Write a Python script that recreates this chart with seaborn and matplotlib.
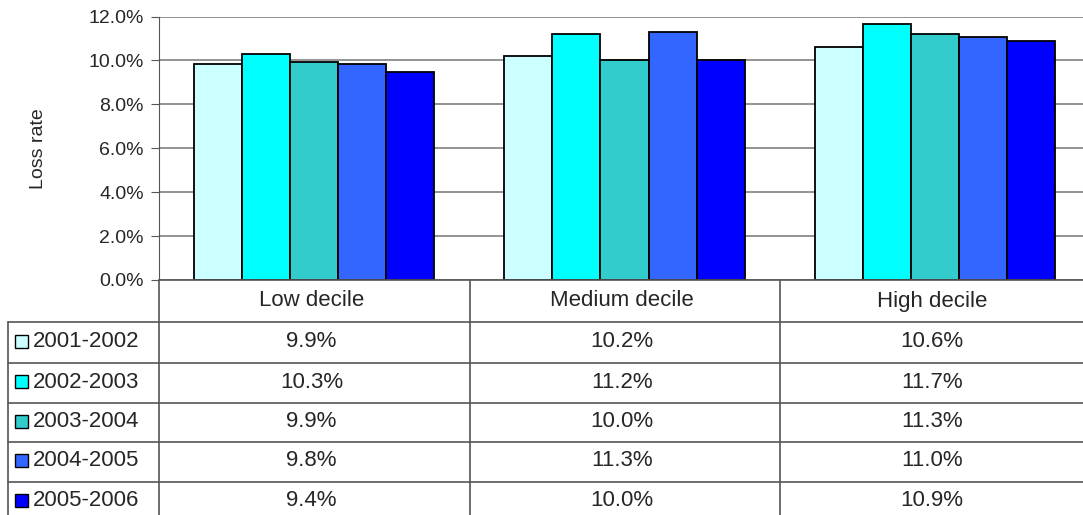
import matplotlib
matplotlib.use("Agg")
import matplotlib.pyplot as plt
import seaborn as sns
import pandas as pd
from matplotlib.lines import Line2D
from matplotlib.patches import Rectangle

categories = ["Low decile", "Medium decile", "High decile"]
periods = ["2001-2002", "2002-2003", "2003-2004", "2004-2005", "2005-2006"]
v2001 = [9.85, 10.2, 10.6]
v2002 = [10.3, 11.2, 11.65]
v2003 = [9.95, 10.0, 11.2]
v2004 = [9.85, 11.3, 11.05]
v2005 = [9.45, 10.0, 10.9]
table_labels = [
    ["9.9%", "10.2%", "10.6%"],
    ["10.3%", "11.2%", "11.7%"],
    ["9.9%", "10.0%", "11.3%"],
    ["9.8%", "11.3%", "11.0%"],
    ["9.4%", "10.0%", "10.9%"],
]
colors = ["#CCFFFF", "#00FFFF", "#33CCCC", "#3366FF", "#0000FF"]

rows = []
for p, vals in zip(periods, [v2001, v2002, v2003, v2004, v2005]):
    for c, v in zip(categories, vals):
        rows.append({"cat": c, "period": p, "val": v})
df = pd.DataFrame(rows)

W, H = 1083, 515
fig = plt.figure(figsize=(W / 100, H / 100), dpi=100)
sns.set_style("white")
plt.rcParams["font.family"] = ["Liberation Sans", "DejaVu Sans"]

# plot area in pixels
x0, x1 = 159, 1090
ytop, ybot = 16.5, 280
ax = fig.add_axes([x0 / W, 1 - ybot / H, (x1 - x0) / W, (ybot - ytop) / H])
sns.barplot(data=df, x="cat", y="val", hue="period", palette=colors,
            saturation=1, width=0.775, edgecolor="black", linewidth=1.3,
            ax=ax, legend=False, zorder=3)
ax.set_ylim(0, 12)
ax.set_xlim(-0.5, 2.5)
ax.set_yticks(range(0, 13, 2))
ax.set_yticklabels([f"{t:.1f}%" for t in range(0, 13, 2)], fontsize=14)
ax.yaxis.grid(True, color="#808080", linewidth=1.2, zorder=0)
ax.set_xticks([])
ax.set_xlabel("")
ax.set_ylabel("Loss rate", fontsize=14, labelpad=30)
for s in ["top", "right", "bottom"]:
    ax.spines[s].set_visible(False)
ax.spines["left"].set_color("#555555")
ax.tick_params(axis="y", length=6, color="#555555", left=True, pad=5)

# table below in pixel coordinates
tab = fig.add_axes([0, 0, 1, 1])
tab.set_xlim(0, W)
tab.set_ylim(H, 0)
tab.axis("off")
lc = "#555555"
fs = 16
cols = [159, 470, 780, 1090]
hdr_bot = 322
row_lines = [hdr_bot, 363, 403, 442, 482, 522]
for cx in cols:
    tab.add_line(Line2D([cx, cx], [ybot, H], color=lc, lw=1.2))
tab.add_line(Line2D([8, 8], [hdr_bot, H], color=lc, lw=1.2))
tab.add_line(Line2D([x0, W], [ybot, ybot], color=lc, lw=1.2))
for ry in row_lines[:-1]:
    tab.add_line(Line2D([8, W], [ry, ry], color=lc, lw=1.2))
for i, c in enumerate(categories):
    tab.text((cols[i] + cols[i + 1]) / 2 - 3, (ybot + hdr_bot) / 2, c,
             ha="center", va="center", fontsize=fs)
for r, p in enumerate(periods):
    cy = (row_lines[r] + row_lines[r + 1]) / 2 - 1
    tab.add_patch(Rectangle((15, cy - 7), 13, 13, facecolor=colors[r],
                            edgecolor="black", lw=1))
    tab.text(33, cy, p, ha="left", va="center", fontsize=fs)
    for i in range(3):
        tab.text((cols[i] + cols[i + 1]) / 2 - 3, cy, table_labels[r][i],
                 ha="center", va="center", fontsize=fs)

fig.savefig("out.png", dpi=100)
